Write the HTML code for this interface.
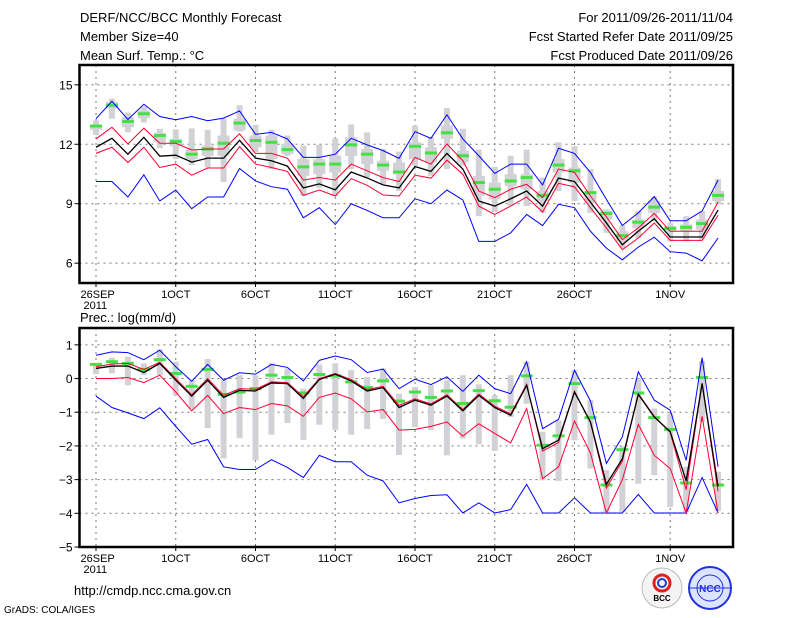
<!DOCTYPE html>
<html><head><meta charset="utf-8"><style>
body{margin:0;background:#fff;}
svg{display:block;font-family:"Liberation Sans",sans-serif;}
</style></head><body>
<svg id="chart" width="800" height="618" viewBox="0 0 800 618" xmlns="http://www.w3.org/2000/svg">
<g font-size="13" fill="#000">
<text x="80" y="22">DERF/NCC/BCC Monthly Forecast</text>
<text x="80" y="41">Member Size=40</text>
<text x="80" y="60">Mean Surf. Temp.: °C</text>
<text x="733" y="22" text-anchor="end">For 2011/09/26-2011/11/04</text>
<text x="733" y="41" text-anchor="end">Fcst Started Refer Date 2011/09/25</text>
<text x="733" y="60" text-anchor="end">Fcst Produced Date 2011/09/26</text>
<text x="80" y="322">Prec.: log(mm/d)</text>
<text x="74" y="595">http://cmdp.ncc.cma.gov.cn</text>
<text x="4" y="613" font-size="10">GrADS: COLA/IGES</text>
</g>
<g>
<circle cx="662" cy="588" r="20" fill="#f4f4f4" stroke="#bbb"/>
<circle cx="662" cy="583" r="8" fill="none" stroke="#e02020" stroke-width="3"/>
<circle cx="662" cy="583" r="4" fill="none" stroke="#2040d0" stroke-width="2"/>
<text x="662" y="601" font-size="8" text-anchor="middle" font-weight="bold">BCC</text>
</g>
<g>
<circle cx="710" cy="588" r="21" fill="#dde4ff" stroke="#2030e0" stroke-width="2"/>
<circle cx="710" cy="588" r="13" fill="none" stroke="#2030e0"/>
<line x1="689" y1="588" x2="731" y2="588" stroke="#2030e0"/>
<text x="710" y="592" font-size="10" text-anchor="middle" fill="#2030e0" font-weight="bold">NCC</text>
</g>
<g id="top"></g>
<g id="bot"></g>
</svg>
<script>
const days=[0,1,2,3,4,5,6,7,8,9,10,11,12,13,14,15,16,17,18,19,20,21,22,23,24,25,26,27,28,29,30,31,32,33,34,35,36,37,38,39];
const tickDays=[0,5,10,15,20,25,30,36];
const tickLabels=["26SEP","1OCT","6OCT","11OCT","16OCT","21OCT","26OCT","1NOV"];
const tTicks=[6,9,12,15];
const pTicks=[1,0,-1,-2,-3,-4,-5];
// temperature
const tMean=[11.85,12.3,11.5,12.35,11.4,11.45,11.1,11.3,11.3,12.2,11.3,11.17,10.9,9.8,10.0,9.7,10.6,10.3,9.95,9.8,10.88,10.63,11.54,10.75,9.14,8.88,9.25,9.64,8.88,10.29,10.12,9.08,8.03,6.93,7.61,8.24,7.32,7.32,7.32,8.68];
const tRedHi=[12.27,12.86,12.02,12.81,12.05,12.05,11.71,11.76,11.76,12.53,11.54,11.54,11.3,10.19,10.32,10.19,11.0,10.66,10.32,10.12,11.34,11.0,12.02,11.17,9.64,9.31,9.73,9.98,9.31,10.75,10.58,9.39,8.34,7.19,7.78,8.51,7.61,7.61,7.61,9.08];
const tRedLo=[11.54,11.85,11.08,11.85,10.83,11.0,10.44,10.8,10.8,11.88,11.0,10.83,10.63,9.42,9.69,9.39,10.27,9.93,9.44,9.39,10.44,10.29,11.2,10.49,8.88,8.46,8.88,9.34,8.58,10.03,9.85,8.8,7.78,6.68,7.27,8.03,7.15,7.15,7.15,8.42];
const tBlueHi=[13.29,14.17,13.25,14.02,13.4,13.24,13.4,13.19,13.32,13.68,12.5,12.6,12.27,11.34,11.34,11.5,12.3,11.97,11.68,11.29,12.64,12.3,13.49,12.27,11.42,10.53,11.0,11.0,9.95,11.8,11.54,10.58,9.22,7.9,8.54,9.36,8.14,8.14,8.63,10.19];
const tBlueLo=[10.12,10.12,9.34,10.46,9.14,9.69,8.75,9.34,9.34,10.78,10.15,9.86,9.73,8.29,8.8,7.95,9.0,8.66,8.29,8.29,9.25,9.0,9.69,9.19,7.1,7.1,7.53,8.46,7.9,8.97,8.8,7.61,6.76,6.17,6.81,7.31,6.58,6.51,6.12,7.27];
const tObs=[12.92,13.97,13.15,13.54,12.44,12.14,11.5,11.76,12.05,13.07,12.19,12.1,11.73,10.86,11.0,11.0,11.97,11.5,10.95,10.6,11.9,11.56,12.58,11.42,10.07,9.73,10.15,10.32,9.42,10.95,10.66,9.56,8.51,7.39,8.07,8.83,7.76,7.81,8.0,9.42];
const tWHi=[13.2,14.3,13.6,13.9,12.78,12.75,12.8,12.73,13.29,13.97,12.98,12.73,12.44,11.93,11.97,12.3,13.0,12.6,11.76,11.63,12.95,12.36,13.83,12.78,11.73,10.86,11.42,11.73,10.32,12.1,11.9,10.75,8.71,7.9,8.63,9.36,8.03,8.37,8.63,10.24];
const tWLo=[12.47,13.29,12.6,13.1,11.8,11.25,10.95,10.83,10.1,12.64,11.6,10.75,11.42,9.39,9.8,9.39,10.75,10.32,10.0,9.64,10.92,10.41,10.75,10.92,8.37,8.58,8.88,8.88,8.54,9.64,9.14,8.54,7.53,6.76,7.27,8.12,7.1,7.1,7.19,8.97];
const tQHi=[12.98,14.14,13.37,13.71,12.58,12.27,11.73,11.93,12.44,13.29,12.44,12.44,12.02,11.25,11.25,11.42,12.36,11.76,11.17,11.08,12.1,11.85,12.95,11.68,10.41,10.07,10.49,10.49,9.64,11.25,10.83,9.64,8.63,7.61,8.2,9.14,7.86,7.95,8.2,9.64];
const tQLo=[12.73,13.8,12.86,13.32,12.1,11.9,11.25,11.42,11.42,12.69,11.85,11.25,11.51,10.41,10.49,10.58,11.42,11.0,10.66,10.49,11.25,11.08,12.27,11.08,9.39,9.22,9.9,9.73,9.14,10.58,10.07,9.05,8.2,7.1,7.78,8.54,7.61,7.61,7.69,9.14];
// precipitation
const pMean=[0.3,0.37,0.37,0.18,0.45,-0.05,-0.52,-0.05,-0.56,-0.35,-0.37,-0.13,-0.15,-0.59,-0.03,0.13,-0.07,-0.37,-0.27,-0.86,-0.64,-0.79,-0.52,-0.96,-0.5,-0.86,-1.09,-0.2,-2.08,-1.83,-0.4,-1.29,-3.14,-2.38,-0.47,-1.14,-1.58,-3.04,-0.15,-3.2];
const pRedHi=[0.35,0.43,0.45,0.27,0.48,0,-0.48,0,-0.5,-0.3,-0.32,-0.1,-0.12,-0.54,0,0.15,-0.03,-0.33,-0.23,-0.8,-0.6,-0.75,-0.48,-0.92,-0.46,-0.82,-1.05,-0.17,-2.15,-1.9,-0.38,-1.3,-3.25,-2.45,-0.45,-1.12,-1.6,-3.3,-0.13,-3.35];
const pRedLo=[0,0,0.03,-0.12,0.1,-0.4,-0.96,-0.5,-1.04,-0.86,-0.92,-0.74,-0.81,-1.12,-0.56,-0.43,-0.6,-0.99,-0.92,-1.53,-1.51,-1.42,-1.29,-1.71,-1.34,-1.63,-1.91,-0.89,-2.97,-2.62,-1.26,-2.21,-3.99,-3.0,-1.36,-2.28,-2.67,-3.99,-1.12,-3.99];
const pBlueHi=[0.69,0.79,0.77,0.56,0.84,0.35,-0.08,0.42,-0.05,0.17,0.13,0.42,0.33,-0.07,0.54,0.67,0.56,0.18,0.28,-0.3,-0.02,-0.18,0.05,-0.38,0.1,-0.3,-0.45,0.5,-1.49,-1.21,0.25,-0.67,-2.52,-1.73,0.2,-0.64,-0.94,-2.43,0.62,-2.62];
const pBlueLo=[-0.52,-0.86,-1.02,-1.19,-0.87,-1.42,-1.95,-1.81,-2.62,-2.7,-2.7,-2.41,-2.64,-2.94,-2.28,-2.47,-2.47,-2.87,-3.04,-3.69,-3.56,-3.47,-3.45,-3.99,-3.69,-3.99,-3.89,-3.14,-3.99,-3.99,-3.54,-3.99,-3.99,-3.99,-3.44,-3.99,-3.99,-3.99,-2.94,-3.99];
const pObs=[0.42,0.5,0.45,0.27,0.56,0.15,-0.23,0.27,-0.47,-0.4,-0.3,0.1,0.03,-0.43,0.12,0.08,-0.1,-0.27,-0.07,-0.67,-0.4,-0.56,-0.37,-0.74,-0.36,-0.66,-0.85,0.08,-1.98,-1.7,-0.15,-1.16,-3.16,-2.11,-0.43,-1.16,-1.51,-3.1,0.03,-3.16];
const pWHi=[0.45,0.62,0.65,0.45,0.87,0.5,-0.05,0.58,-0.05,0.1,0.1,0.45,0.3,-0.3,0.42,0.45,0.25,0.05,0.3,-0.45,-0.25,-0.2,-0.05,0.1,-0.17,-0.5,0.1,0.5,-1.58,-1.24,0.25,-0.64,-2.72,-2.01,0,-0.89,-1.04,-2.62,0.52,-2.77];
const pWLo=[0.13,0.15,-0.2,0.1,0.1,-0.5,-0.9,-1.47,-2.37,-1.77,-2.43,-1.67,-1.32,-1.82,-1.37,-1.52,-1.67,-1.5,-1.2,-2.27,-1.44,-1.53,-2.28,-1.78,-1.95,-2.15,-1.14,-0.75,-3.02,-3.04,-1.83,-2.67,-3.96,-3.96,-3.12,-2.87,-3.81,-3.96,-1.29,-3.93];

const NS="http://www.w3.org/2000/svg";
const X0=79.5,X1=733;
function xPos(d){return 96+d*15.95;}
function mk(parent,tag,attrs){const e=document.createElementNS(NS,tag);for(const k in attrs)e.setAttribute(k,attrs[k]);parent.appendChild(e);return e;}

function panel(g,Y0,Y1,vmin,vmax,yticks,series,showBox,prefix){
  const yPos=v=>Y1-(v-vmin)*(Y1-Y0)/(vmax-vmin);
  // grid
  yticks.forEach(t=>{
    if(t>vmin&&t<vmax){const l=mk(g,'line',{x1:X0,x2:X1,y1:yPos(t),y2:yPos(t),stroke:'#777','stroke-dasharray':'2,4','stroke-width':1});
    
    }
    const tl=mk(g,'line',{x1:X0-5,x2:X0,y1:yPos(t),y2:yPos(t),stroke:'#000'});
    
    
    const tx=mk(g,'text',{x:X0-7,y:yPos(t)+4.5,'text-anchor':'end','font-size':12});
    tx.textContent=(t<0?'\u2212'+(-t):t);
    
    
  });
  tickDays.forEach((d,i)=>{
    const x=xPos(d);
    const l=mk(g,'line',{x1:x,x2:x,y1:Y0,y2:Y1,stroke:'#777','stroke-dasharray':'2,4'});
    
    
    const t=mk(g,'line',{x1:x,x2:x,y1:Y1,y2:Y1+4,stroke:'#000'});
    
    
    const tx=mk(g,'text',{x:i==0?X0+1:x,y:Y1+15,'text-anchor':i==0?'start':'middle','font-size':11});
    tx.textContent=tickLabels[i];
    
    
  });
  const yr=mk(g,'text',{x:X0+4,y:Y1+26,'font-size':11});
  yr.textContent='2011';
  
  
  // boxes
  days.forEach(d=>{
    const x=xPos(d);
    const w=mk(g,'rect',{x:x-3,width:6,y:yPos(series.wHi[d]),height:Math.max(1,yPos(series.wLo[d])-yPos(series.wHi[d])),fill:'#d2d2d6'});
    
    
    if(showBox){
      const b=mk(g,'rect',{x:x-6,width:12,y:yPos(series.qHi[d]),height:Math.max(1,yPos(series.qLo[d])-yPos(series.qHi[d])),fill:'#d2d2d6'});
      
      
    }
  });
  days.forEach(d=>{
    const x=xPos(d);
    const o=mk(g,'rect',{x:x-6,width:12,y:yPos(series.obs[d])-1.5,height:3,fill:'#44e044'});
    
    
  });
  const lines=[[series.blueHi,'#0000ff',1,'max-line'],[series.blueLo,'#0000ff',1,'min-line'],[series.redHi,'#ff0033',1,'upper-line'],[series.redLo,'#ff0033',1,'lower-line'],[series.mean,'#000',1.3,'mean-line']];
  lines.forEach(([arr,c,w,n])=>{
    const p=mk(g,'polyline',{points:days.map(d=>xPos(d)+','+yPos(arr[d])).join(' '),fill:'none',stroke:c,'stroke-width':w});
    
    
  });
  const f=mk(g,'rect',{x:X0,y:Y0,width:X1-X0,height:Y1-Y0,fill:'none',stroke:'#000','stroke-width':2.5});
  
  
}
const gt=document.getElementById('top');


panel(gt,65,283,5,16,tTicks,{mean:tMean,redHi:tRedHi,redLo:tRedLo,blueHi:tBlueHi,blueLo:tBlueLo,obs:tObs,wHi:tWHi,wLo:tWLo,qHi:tQHi,qLo:tQLo},true,'temp');
const gb=document.getElementById('bot');


panel(gb,328,547,-5,1.5,pTicks,{mean:pMean,redHi:pRedHi,redLo:pRedLo,blueHi:pBlueHi,blueLo:pBlueLo,obs:pObs,wHi:pWHi,wLo:pWLo},false,'precip');
</script>
</body></html>
